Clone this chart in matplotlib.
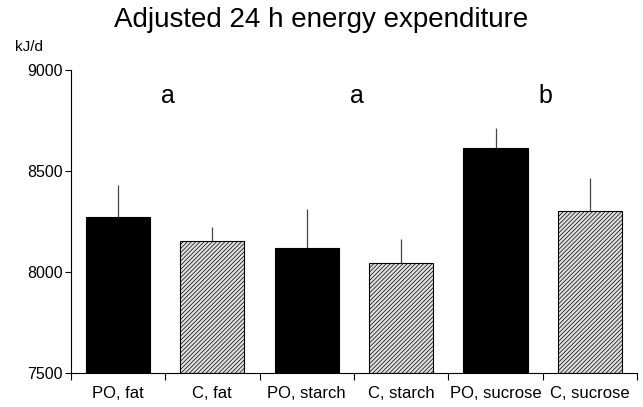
import matplotlib.pyplot as plt
import numpy as np

plt.rcParams["font.family"] = ["Liberation Sans", "DejaVu Sans"]
plt.rcParams["hatch.linewidth"] = 0.5
plt.rcParams["hatch.color"] = "#4a4a4a"

groups = ["PO, fat", "C, fat", "PO, starch", "C, starch", "PO, sucrose", "C, sucrose"]
means = [8270, 8155, 8120, 8045, 8615, 8300]
errors = [160, 70, 190, 120, 100, 165]
letters = ["a", "a", "b"]

x = np.arange(len(groups))

fig = plt.figure(figsize=(6.43, 4.07), dpi=100)
ax = fig.add_axes([0.110, 0.0835, 0.881, 0.7445])

for i in x:
    po = i % 2 == 0
    ax.bar(
        i,
        means[i] - 7500,
        bottom=7500,
        width=0.68,
        color="black" if po else "#e0e0e0",
        edgecolor="black",
        linewidth=0.8,
        hatch=None if po else "////////",
        zorder=2,
    )
    ax.vlines(i, means[i], means[i] + errors[i], color="#444444", linewidth=0.9, zorder=1)

for k, s in enumerate(letters):
    ax.text(2 * k + 0.53, 8870, s, ha="center", va="center", fontsize=18)

ax.set_xlim(-0.5, 5.5)
ax.set_ylim(7500, 9000)
ax.set_yticks([7500, 8000, 8500, 9000])
ax.set_xticks(np.arange(-0.5, 6, 1))
ax.set_xticklabels([])
ax.set_xticks(x, minor=True)
ax.set_xticklabels(groups, minor=True, fontsize=12)
ax.tick_params(axis="x", which="minor", length=0, pad=9)
ax.tick_params(axis="x", which="major", length=5, width=0.8)
ax.tick_params(axis="y", length=4, width=0.8, labelsize=11.5, pad=2)
for side in ("top", "right"):
    ax.spines[side].set_visible(False)
for side in ("left", "bottom"):
    ax.spines[side].set_linewidth(0.8)

fig.text(0.5, 0.951, "Adjusted 24 h energy expenditure", ha="center", va="center", fontsize=20)
fig.text(0.024, 0.884, "kJ/d", ha="left", va="center", fontsize=11)

plt.savefig("out.png", dpi=100)
plt.close()
